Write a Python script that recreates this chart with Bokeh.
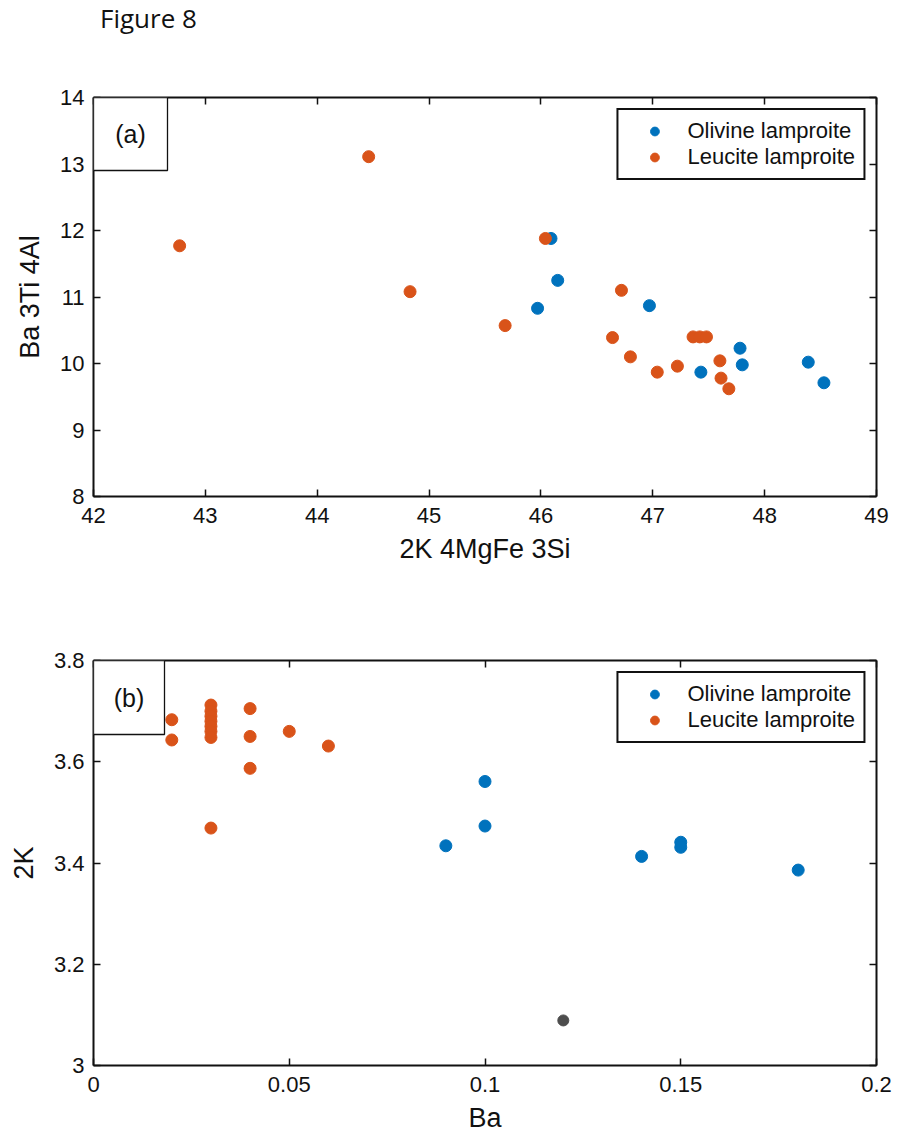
from bokeh.plotting import figure
from bokeh.layouts import column
from bokeh.models import (LinearAxis, FixedTicker, CustomJSTickFormatter, Legend,
                          LegendItem, BoxAnnotation, Label, Range1d, Div)
from bokeh.embed import file_html
from bokeh.resources import INLINE

# ---- data -------------------------------------------------------------
# panel (a): 2K 4MgFe 3Si vs Ba 3Ti 4Al
a_olivine_x = [46.09, 46.15, 45.97, 46.97, 47.43, 47.78, 47.80, 48.39, 48.53]
a_olivine_y = [11.88, 11.25, 10.83, 10.87, 9.87, 10.23, 9.98, 10.02, 9.71]
a_leucite_x = [42.77, 44.46, 44.83, 45.68, 46.04, 46.72, 46.64, 46.80, 47.04,
               47.22, 47.36, 47.42, 47.48, 47.60, 47.61, 47.68]
a_leucite_y = [11.77, 13.11, 11.08, 10.57, 11.88, 11.10, 10.39, 10.10, 9.87,
               9.96, 10.40, 10.40, 10.40, 10.04, 9.78, 9.62]

# panel (b): Ba vs 2K
b_olivine_x = [0.09, 0.10, 0.10, 0.14, 0.15, 0.15, 0.18]
b_olivine_y = [3.434, 3.561, 3.473, 3.413, 3.441, 3.431, 3.386]
b_leucite_x = [0.02, 0.02, 0.03, 0.03, 0.03, 0.03, 0.03, 0.03, 0.03, 0.03,
               0.04, 0.04, 0.04, 0.05, 0.06]
b_leucite_y = [3.683, 3.643, 3.712, 3.700, 3.690, 3.680, 3.670, 3.660, 3.648,
               3.469, 3.705, 3.650, 3.587, 3.660, 3.631]
b_other_x = [0.12]
b_other_y = [3.089]

a_xticks = [42, 43, 44, 45, 46, 47, 48, 49]
a_yticks = [8, 9, 10, 11, 12, 13, 14]
b_xticks = [0, 0.05, 0.1, 0.15, 0.2]
b_yticks = [3, 3.2, 3.4, 3.6, 3.8]

series_names = ["Olivine lamproite", "Leucite lamproite"]

# ---- style ------------------------------------------------------------
BLUE = "#0072BD"
RED = "#D95319"
GRAY = "#4D4D4D"
INK = "#111111"
FONT = "Liberation Sans"
TICK_FS = "22px"
LABEL_FS = "27px"
MSIZE = 12

fmt = CustomJSTickFormatter(code="return tick.toString();")
blank = CustomJSTickFormatter(code="return '';")


def frame_axis_style(ax):
    ax.axis_line_width = 2
    ax.axis_line_color = INK
    ax.major_tick_line_color = INK
    ax.major_tick_line_width = 1.5
    ax.major_tick_in = 7
    ax.major_tick_out = 0
    ax.minor_tick_line_color = None


def style_axes(p, xticks, yticks, xlabel, ylabel):
    for ax in p.xaxis + p.yaxis:
        frame_axis_style(ax)
        ax.major_label_text_font = FONT
        ax.major_label_text_font_size = TICK_FS
        ax.major_label_text_color = INK
        ax.axis_label_text_font = FONT
        ax.axis_label_text_font_size = LABEL_FS
        ax.axis_label_text_font_style = "normal"
        ax.axis_label_text_color = INK
        ax.formatter = fmt
    p.xaxis.ticker = FixedTicker(ticks=xticks)
    p.yaxis.ticker = FixedTicker(ticks=yticks)
    p.xaxis.axis_label = xlabel
    p.yaxis.axis_label = ylabel
    p.xaxis.major_label_standoff = 11
    p.yaxis.major_label_standoff = 9
    p.xaxis.axis_label_standoff = 8
    p.yaxis.axis_label_standoff = 12
    # mirrored axes on top and right close the box, ticks only
    top = LinearAxis(ticker=FixedTicker(ticks=xticks), formatter=blank)
    right = LinearAxis(ticker=FixedTicker(ticks=yticks), formatter=blank)
    for ax in (top, right):
        frame_axis_style(ax)
        ax.major_label_standoff = 0
    p.add_layout(top, "above")
    p.add_layout(right, "right")
    p.grid.visible = False
    p.outline_line_color = None


def add_legend(p, r_oliv, r_leuc):
    leg = Legend(items=[LegendItem(label=series_names[0], renderers=[r_oliv]),
                        LegendItem(label=series_names[1], renderers=[r_leuc])],
                 location="top_right")
    leg.margin = 11
    leg.padding = 8
    leg.spacing = 0
    leg.glyph_width = 56
    leg.glyph_height = 22
    leg.label_standoff = 5
    leg.label_text_font = FONT
    leg.label_text_font_size = "22px"
    leg.label_text_color = INK
    leg.border_line_color = INK
    leg.border_line_alpha = 1
    leg.border_line_width = 2
    leg.background_fill_color = "white"
    leg.background_fill_alpha = 1
    p.add_layout(leg)


def add_panel_tag(p, tag, w, h, frame_h):
    box = BoxAnnotation(left=0, right=w, top=frame_h, bottom=frame_h - h,
                        left_units="screen", right_units="screen",
                        top_units="screen", bottom_units="screen",
                        fill_color="white", fill_alpha=1,
                        line_color=INK, line_alpha=1, line_width=1.3)
    p.add_layout(box)
    p.add_layout(Label(x=w / 2, y=frame_h - h / 2, x_units="screen", y_units="screen",
                       text=tag, text_align="center", text_baseline="middle",
                       text_font=FONT, text_font_size="25px", text_color=INK))


# ---- heading ----------------------------------------------------------
heading = Div(text='<div style="position:absolute;left:100px;top:0px;'
                   'font-family:\'Open Sans\';font-size:26px;font-weight:normal;'
                   'line-height:36px;color:#111;">Figure 8</div>',
              width=907, height=40, margin=0)

# ---- panel (a) --------------------------------------------------------
FH1 = 399
p1 = figure(frame_width=783, frame_height=FH1, output_backend="svg", toolbar_location=None,
            x_range=Range1d(42, 49), y_range=Range1d(8, 14),
            min_border_left=93, min_border_right=31, min_border_top=57, min_border_bottom=104)
p1.background_fill_color = "white"
p1.border_fill_color = "white"
style_axes(p1, a_xticks, a_yticks, "2K 4MgFe 3Si", "Ba 3Ti 4Al")
r1o = p1.scatter(a_olivine_x, a_olivine_y, marker="circle", size=MSIZE,
                 fill_color=BLUE, line_color=BLUE)
r1l = p1.scatter(a_leucite_x, a_leucite_y, marker="circle", size=MSIZE,
                 fill_color=RED, line_color=RED)
add_legend(p1, r1o, r1l)
add_panel_tag(p1, "(a)", 74, 73, FH1)

# ---- panel (b) --------------------------------------------------------
FH2 = 405
p2 = figure(frame_width=783, frame_height=FH2, output_backend="svg", toolbar_location=None,
            x_range=Range1d(0, 0.2), y_range=Range1d(3, 3.8),
            min_border_left=93, min_border_right=31, min_border_top=60, min_border_bottom=73)
p2.background_fill_color = "white"
p2.border_fill_color = "white"
style_axes(p2, b_xticks, b_yticks, "Ba", "2K")
r2o = p2.scatter(b_olivine_x, b_olivine_y, marker="circle", size=MSIZE,
                 fill_color=BLUE, line_color=BLUE)
r2l = p2.scatter(b_leucite_x, b_leucite_y, marker="circle", size=MSIZE,
                 fill_color=RED, line_color=RED)
p2.scatter(b_other_x, b_other_y, marker="circle", size=MSIZE - 1,
           fill_color=GRAY, line_color=GRAY)
add_legend(p2, r2o, r2l)
add_panel_tag(p2, "(b)", 71, 74, FH2)

layout = column(heading, p1, p2, spacing=0)
open("out.html", "w").write(file_html(layout, INLINE))
